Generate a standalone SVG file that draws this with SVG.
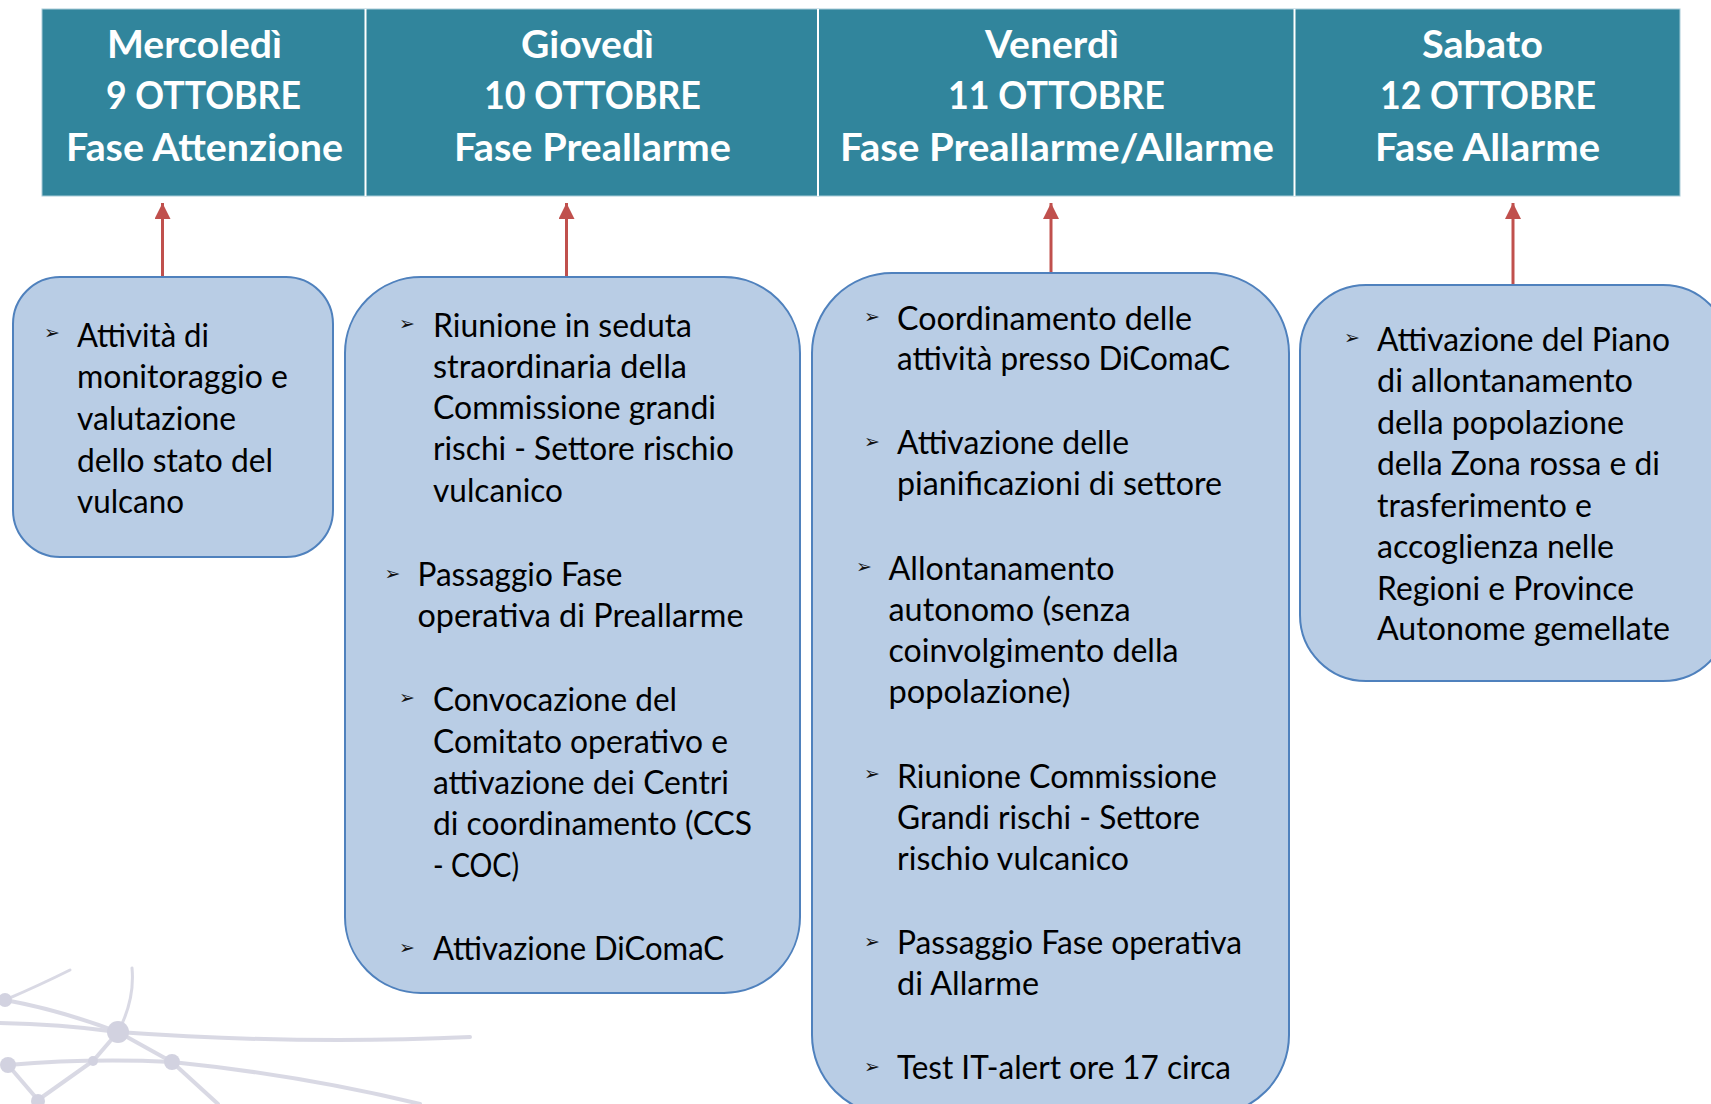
<svg xmlns="http://www.w3.org/2000/svg" width="1711" height="1104" viewBox="0 0 1711 1104">
<defs>
<style>
.hd{font-family:Lato,"Open Sans","Liberation Sans",sans-serif;font-weight:700;font-size:38px;fill:#ffffff}
.tx{font-family:Lato,"Open Sans","Liberation Sans",sans-serif;font-size:32px;fill:#000000}
.bl{font-family:"DejaVu Sans",sans-serif;font-size:19px;fill:#111111}
.box{fill:#B9CDE5;stroke:#4F81BD;stroke-width:2}
.cn{stroke:#C0504D;stroke-width:3;fill:none}
.wm{stroke:#CDCDDC;fill:none;stroke-linecap:round}
.wd{fill:#C4C4D6}
</style>
<marker id="ah" viewBox="0 0 16 16" refX="16" refY="8" markerWidth="16" markerHeight="16" markerUnits="userSpaceOnUse" orient="auto">
<path d="M0,0 L16,8 L0,16 Z" fill="#C0504D"/>
</marker>
</defs>
<rect width="1711" height="1104" fill="#ffffff"/>

<g id="watermark" opacity="0.75">
<path class="wm" stroke-width="3" d="M5,1000 Q40,985 70,970"/>
<path class="wm" stroke-width="4" d="M5,1000 Q60,1010 118,1032"/>
<path class="wm" stroke-width="4" d="M0,1023 Q60,1024 118,1032"/>
<path class="wm" stroke-width="4" d="M118,1032 Q300,1045 470,1037"/>
<path class="wm" stroke-width="3" d="M118,1032 Q135,1000 132,968"/>
<path class="wm" stroke-width="4" d="M118,1032 L93,1061 L38,1100"/>
<path class="wm" stroke-width="4" d="M8,1065 Q90,1058 172,1062"/>
<path class="wm" stroke-width="4" d="M118,1032 L172,1062"/>
<path class="wm" stroke-width="4" d="M172,1062 Q300,1075 420,1104"/>
<path class="wm" stroke-width="4" d="M172,1062 L218,1104"/>
<path class="wm" stroke-width="4" d="M8,1065 L38,1100"/>
<circle class="wd" cx="5" cy="1000" r="7"/>
<circle class="wd" cx="118" cy="1032" r="11"/>
<circle class="wd" cx="8" cy="1065" r="8"/>
<circle class="wd" cx="93" cy="1061" r="5"/>
<circle class="wd" cx="172" cy="1062" r="8"/>
<circle class="wd" cx="38" cy="1101" r="7"/>
</g>

<g id="header">
<rect x="42" y="9" width="1638" height="187" fill="#31859C" stroke="#A9CCD8" stroke-width="1"/>
<line x1="365.5" y1="9" x2="365.5" y2="196" stroke="#ffffff" stroke-width="2"/>
<line x1="818" y1="9" x2="818" y2="196" stroke="#ffffff" stroke-width="2"/>
<line x1="1294.5" y1="9" x2="1294.5" y2="196" stroke="#ffffff" stroke-width="2"/>
</g>

<g id="h1">
<text class="hd" x="107" y="58" textLength="175" lengthAdjust="spacingAndGlyphs">Mercoledì</text>
<text class="hd" x="106" y="109" textLength="195" lengthAdjust="spacingAndGlyphs">9 OTTOBRE</text>
<text class="hd" x="66" y="161" textLength="277" lengthAdjust="spacingAndGlyphs">Fase Attenzione</text>
</g>
<g id="h2">
<text class="hd" x="521" y="58" textLength="133" lengthAdjust="spacingAndGlyphs">Giovedì</text>
<text class="hd" x="484" y="109" textLength="217" lengthAdjust="spacingAndGlyphs">10 OTTOBRE</text>
<text class="hd" x="454" y="161" textLength="277" lengthAdjust="spacingAndGlyphs">Fase Preallarme</text>
</g>
<g id="h3">
<text class="hd" x="985" y="58" textLength="134" lengthAdjust="spacingAndGlyphs">Venerdì</text>
<text class="hd" x="948" y="109" textLength="217" lengthAdjust="spacingAndGlyphs">11 OTTOBRE</text>
<text class="hd" x="840" y="161" textLength="434" lengthAdjust="spacingAndGlyphs">Fase Preallarme/Allarme</text>
</g>
<g id="h4">
<text class="hd" x="1422" y="58" textLength="121" lengthAdjust="spacingAndGlyphs">Sabato</text>
<text class="hd" x="1380" y="109" textLength="216" lengthAdjust="spacingAndGlyphs">12 OTTOBRE</text>
<text class="hd" x="1375" y="161" textLength="225" lengthAdjust="spacingAndGlyphs">Fase Allarme</text>
</g>

<g id="connectors">
<line class="cn" x1="162.5" y1="277" x2="162.5" y2="203" marker-end="url(#ah)"/>
<line class="cn" x1="566.5" y1="277" x2="566.5" y2="203" marker-end="url(#ah)"/>
<line class="cn" x1="1051" y1="273" x2="1051" y2="203" marker-end="url(#ah)"/>
<line class="cn" x1="1513" y1="285" x2="1513" y2="203" marker-end="url(#ah)"/>
</g>

<g id="box1">
<rect class="box" x="13" y="277" width="320" height="280" rx="47" ry="47"/>
<text class="bl" x="44" y="339">➢</text>
<text class="tx" x="77" y="347" textLength="132" lengthAdjust="spacingAndGlyphs">Attività di</text>
<text class="tx" x="77" y="388" textLength="211" lengthAdjust="spacingAndGlyphs">monitoraggio e</text>
<text class="tx" x="77" y="430" textLength="159" lengthAdjust="spacingAndGlyphs">valutazione</text>
<text class="tx" x="77" y="471.5" textLength="196" lengthAdjust="spacingAndGlyphs">dello stato del</text>
<text class="tx" x="77" y="512.5" textLength="107" lengthAdjust="spacingAndGlyphs">vulcano</text>
</g>

<g id="box2">
<rect class="box" x="345" y="277" width="455" height="716" rx="76" ry="76"/>
<text class="bl" x="399" y="330">➢</text>
<text class="tx" x="433" y="336.5" textLength="259" lengthAdjust="spacingAndGlyphs">Riunione in seduta</text>
<text class="tx" x="433" y="377.5" textLength="254" lengthAdjust="spacingAndGlyphs">straordinaria della</text>
<text class="tx" x="433" y="418.5" textLength="283" lengthAdjust="spacingAndGlyphs">Commissione grandi</text>
<text class="tx" x="433" y="460" textLength="301" lengthAdjust="spacingAndGlyphs">rischi - Settore rischio</text>
<text class="tx" x="433" y="501.5" textLength="130" lengthAdjust="spacingAndGlyphs">vulcanico</text>
<text class="bl" x="384.5" y="580">➢</text>
<text class="tx" x="417.5" y="586" textLength="205" lengthAdjust="spacingAndGlyphs">Passaggio Fase</text>
<text class="tx" x="417.5" y="627" textLength="326" lengthAdjust="spacingAndGlyphs">operativa di Preallarme</text>
<text class="bl" x="399" y="704">➢</text>
<text class="tx" x="433" y="711" textLength="244" lengthAdjust="spacingAndGlyphs">Convocazione del</text>
<text class="tx" x="433" y="752.5" textLength="295" lengthAdjust="spacingAndGlyphs">Comitato operativo e</text>
<text class="tx" x="433" y="793.5" textLength="296" lengthAdjust="spacingAndGlyphs">attivazione dei Centri</text>
<text class="tx" x="433" y="835" textLength="319" lengthAdjust="spacingAndGlyphs">di coordinamento (CCS</text>
<text class="tx" x="433" y="876.5" textLength="86" lengthAdjust="spacingAndGlyphs">- COC)</text>
<text class="bl" x="399" y="954">➢</text>
<text class="tx" x="433" y="960" textLength="291" lengthAdjust="spacingAndGlyphs">Attivazione DiComaC</text>
</g>

<g id="box3">
<rect class="box" x="812" y="273" width="477" height="842" rx="80" ry="80"/>
<text class="bl" x="864" y="323">➢</text>
<text class="tx" x="897" y="329.5" textLength="295" lengthAdjust="spacingAndGlyphs">Coordinamento delle</text>
<text class="tx" x="897" y="370" textLength="333" lengthAdjust="spacingAndGlyphs">attività presso DiComaC</text>
<text class="bl" x="864" y="448">➢</text>
<text class="tx" x="897" y="454" textLength="232" lengthAdjust="spacingAndGlyphs">Attivazione delle</text>
<text class="tx" x="897" y="495" textLength="325" lengthAdjust="spacingAndGlyphs">pianificazioni di settore</text>
<text class="bl" x="856" y="573">➢</text>
<text class="tx" x="888.5" y="579.5" textLength="226" lengthAdjust="spacingAndGlyphs">Allontanamento</text>
<text class="tx" x="888.5" y="621" textLength="242" lengthAdjust="spacingAndGlyphs">autonomo (senza</text>
<text class="tx" x="888.5" y="662" textLength="290" lengthAdjust="spacingAndGlyphs">coinvolgimento della</text>
<text class="tx" x="888.5" y="703" textLength="182" lengthAdjust="spacingAndGlyphs">popolazione)</text>
<text class="bl" x="864" y="780">➢</text>
<text class="tx" x="897" y="787.5" textLength="320" lengthAdjust="spacingAndGlyphs">Riunione Commissione</text>
<text class="tx" x="897" y="828.5" textLength="303" lengthAdjust="spacingAndGlyphs">Grandi rischi - Settore</text>
<text class="tx" x="897" y="870" textLength="232" lengthAdjust="spacingAndGlyphs">rischio vulcanico</text>
<text class="bl" x="864" y="948">➢</text>
<text class="tx" x="897" y="953.5" textLength="345" lengthAdjust="spacingAndGlyphs">Passaggio Fase operativa</text>
<text class="tx" x="897" y="995" textLength="142" lengthAdjust="spacingAndGlyphs">di Allarme</text>
<text class="bl" x="864" y="1073">➢</text>
<text class="tx" x="897" y="1078.5" textLength="334" lengthAdjust="spacingAndGlyphs">Test IT-alert ore 17 circa</text>
</g>

<g id="box4">
<rect class="box" x="1300" y="285" width="429" height="396" rx="66" ry="66"/>
<text class="bl" x="1344" y="344">➢</text>
<text class="tx" x="1377" y="350.5" textLength="293" lengthAdjust="spacingAndGlyphs">Attivazione del Piano</text>
<text class="tx" x="1377" y="391.5" textLength="256" lengthAdjust="spacingAndGlyphs">di allontanamento</text>
<text class="tx" x="1377" y="433.5" textLength="247" lengthAdjust="spacingAndGlyphs">della popolazione</text>
<text class="tx" x="1377" y="475" textLength="283" lengthAdjust="spacingAndGlyphs">della Zona rossa e di</text>
<text class="tx" x="1377" y="516.5" textLength="215" lengthAdjust="spacingAndGlyphs">trasferimento e</text>
<text class="tx" x="1377" y="557.5" textLength="237" lengthAdjust="spacingAndGlyphs">accoglienza nelle</text>
<text class="tx" x="1377" y="599.5" textLength="257" lengthAdjust="spacingAndGlyphs">Regioni e Province</text>
<text class="tx" x="1377" y="640" textLength="293" lengthAdjust="spacingAndGlyphs">Autonome gemellate</text>
</g>
</svg>
